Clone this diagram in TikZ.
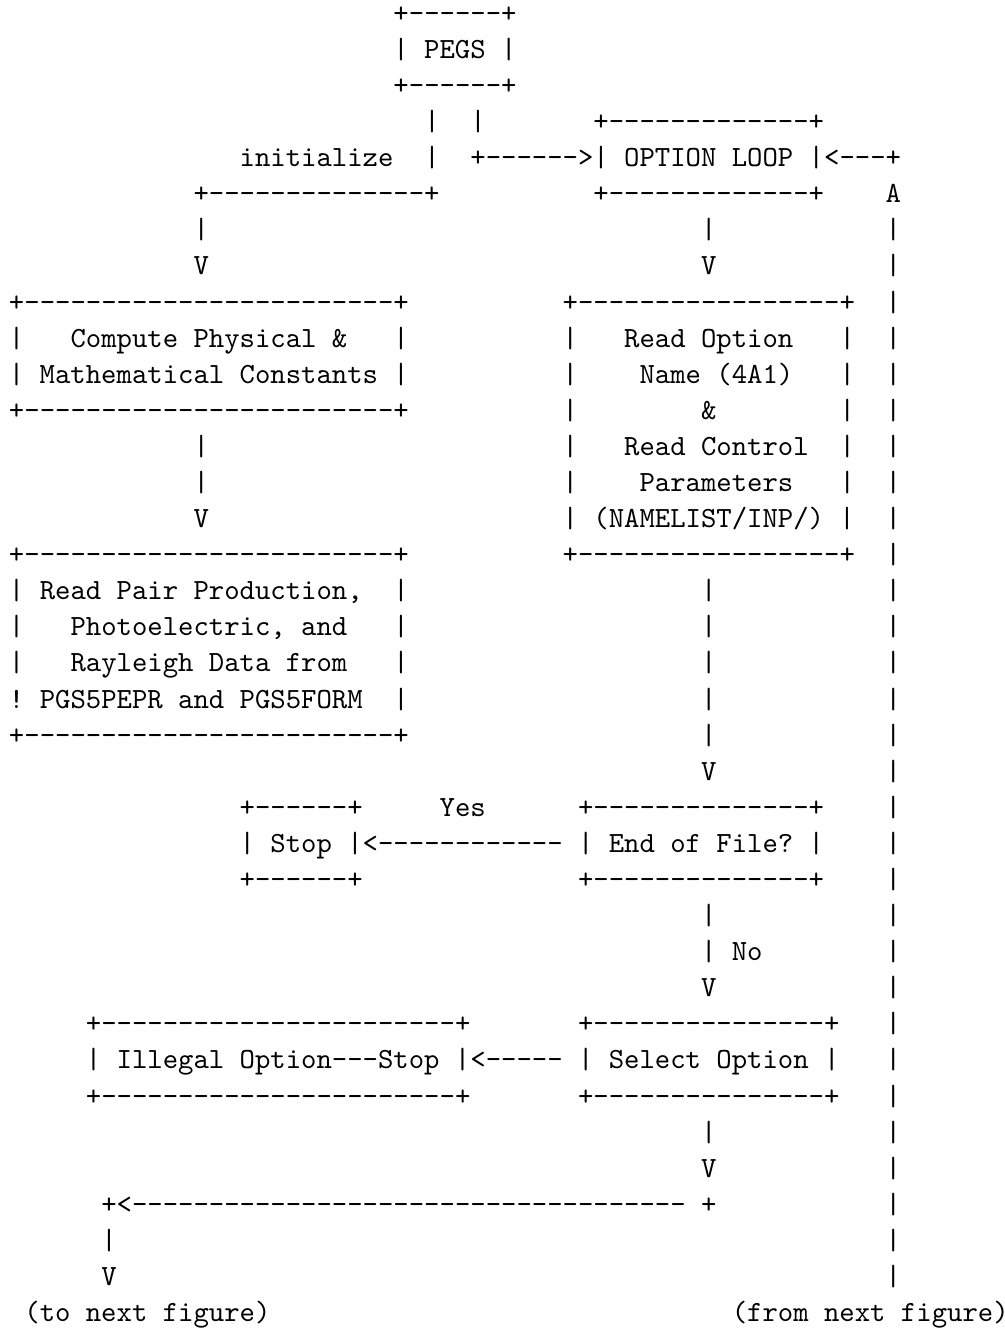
\documentclass[tikz,border=0pt]{standalone}
\newcommand\dsh[1]{\foreach\dshi in {1,...,#1}{-\kern0pt}}
\newcommand\asc[4]{\node[asciitext] (#1) at ({#2*5.25pt},{-(#3-1)*12.32pt}) {#4};}
\tikzset{asciitext/.style={anchor=base west,inner sep=0pt,outer sep=0pt,
  font=\fontsize{10}{12}\selectfont\ttfamily\frenchspacing}}
\begin{document}
\begin{tikzpicture}
\useasboundingbox (-3.07pt,7.62pt) rectangle (339.99pt,-446.04pt);
% PEGS
\asc{pegsT}{25}{1}{+\dsh{6}+}
\asc{pegs}{25}{2}{| PEGS |}
\asc{pegsB}{25}{3}{+\dsh{6}+}
\asc{l4a}{27}{4}{|}
\asc{l4b}{30}{4}{|}
\asc{optT}{38}{4}{+\dsh{13}+}
\asc{init}{15}{5}{initialize}
\asc{l5a}{27}{5}{|}
\asc{l5b}{30}{5}{+\dsh{6}>}
\asc{opt}{38}{5}{| OPTION LOOP |}
\asc{l5c}{53}{5}{<\dsh{3}+}
\asc{initB}{12}{6}{+\dsh{14}+}
\asc{optB}{38}{6}{+\dsh{13}+}
\asc{retA}{57}{6}{A}
\asc{l7a}{12}{7}{|}
\asc{l7b}{45}{7}{|}
\asc{l8a}{12}{8}{V}
\asc{l8b}{45}{8}{V}
% left boxes
\asc{cpT}{0}{9}{+\dsh{24}+}
\asc{cpL1}{0}{10}{|}
\asc{cp1}{4}{10}{Compute Physical \&}
\asc{cpR1}{25}{10}{|}
\asc{cp2}{0}{11}{| Mathematical Constants |}
\asc{cpB}{0}{12}{+\dsh{24}+}
\asc{l13a}{12}{13}{|}
\asc{l14a}{12}{14}{|}
\asc{l15a}{12}{15}{V}
\asc{rdT}{0}{16}{+\dsh{24}+}
\asc{rdL1}{0}{17}{|}
\asc{rd1}{2}{17}{Read Pair Production,}
\asc{rdR1}{25}{17}{|}
\asc{rdL2}{0}{18}{|}
\asc{rd2}{4}{18}{Photoelectric, and}
\asc{rdR2}{25}{18}{|}
\asc{rdL3}{0}{19}{|}
\asc{rd3}{4}{19}{Rayleigh Data from}
\asc{rdR3}{25}{19}{|}
\asc{rdL4}{0}{20}{!}
\asc{rd4}{2}{20}{PGS5PEPR and PGS5FORM}
\asc{rdR4}{25}{20}{|}
\asc{rdB}{0}{21}{+\dsh{24}+}
% read option box
\asc{roT}{36}{9}{+\dsh{17}+}
\asc{roL1}{36}{10}{|}\asc{ro1}{40}{10}{Read Option}\asc{roR1}{54}{10}{|}
\asc{roL2}{36}{11}{|}\asc{ro2}{41}{11}{Name (4A1)}\asc{roR2}{54}{11}{|}
\asc{roL3}{36}{12}{|}\asc{ro3}{45}{12}{\&}\asc{roR3}{54}{12}{|}
\asc{roL4}{36}{13}{|}\asc{ro4}{40}{13}{Read Control}\asc{roR4}{54}{13}{|}
\asc{roL5}{36}{14}{|}\asc{ro5}{41}{14}{Parameters}\asc{roR5}{54}{14}{|}
\asc{ro6}{36}{15}{| (NAMELIST/INP/) |}
\asc{roB}{36}{16}{+\dsh{17}+}
\asc{l17b}{45}{17}{|}
\asc{l18b}{45}{18}{|}
\asc{l19b}{45}{19}{|}
\asc{l20b}{45}{20}{|}
\asc{l21b}{45}{21}{|}
\asc{l22b}{45}{22}{V}
% stop / end of file
\asc{stT}{15}{23}{+\dsh{6}+}
\asc{yes}{28}{23}{Yes}
\asc{eofT}{37}{23}{+\dsh{14}+}
\asc{st}{15}{24}{| Stop |}
\asc{l24}{23}{24}{<\dsh{12}}
\asc{eof}{37}{24}{| End of File? |}
\asc{stB}{15}{25}{+\dsh{6}+}
\asc{eofB}{37}{25}{+\dsh{14}+}
\asc{l26b}{45}{26}{|}
\asc{no}{45}{27}{| No}
\asc{l28b}{45}{28}{V}
% illegal / select
\asc{ilT}{5}{29}{+\dsh{23}+}
\asc{selT}{37}{29}{+\dsh{15}+}
\asc{il}{5}{30}{| Illegal Option\dsh{3}Stop |}
\asc{l30}{30}{30}{<\dsh{5}}
\asc{sel}{37}{30}{| Select Option |}
\asc{ilB}{5}{31}{+\dsh{23}+}
\asc{selB}{37}{31}{+\dsh{15}+}
\asc{l32b}{45}{32}{|}
\asc{l33b}{45}{33}{V}
\asc{l34a}{6}{34}{+<\dsh{36}}
\asc{l34b}{45}{34}{+}
\asc{l35a}{6}{35}{|}
\asc{l36a}{6}{36}{V}
\asc{tonext}{1}{37}{(to next figure)}
\asc{fromnext}{47}{37}{(from next figure)}
% right return line
\foreach \ln in {7,...,36}{\asc{ret\ln}{57}{\ln}{|}}
\end{tikzpicture}
\end{document}
